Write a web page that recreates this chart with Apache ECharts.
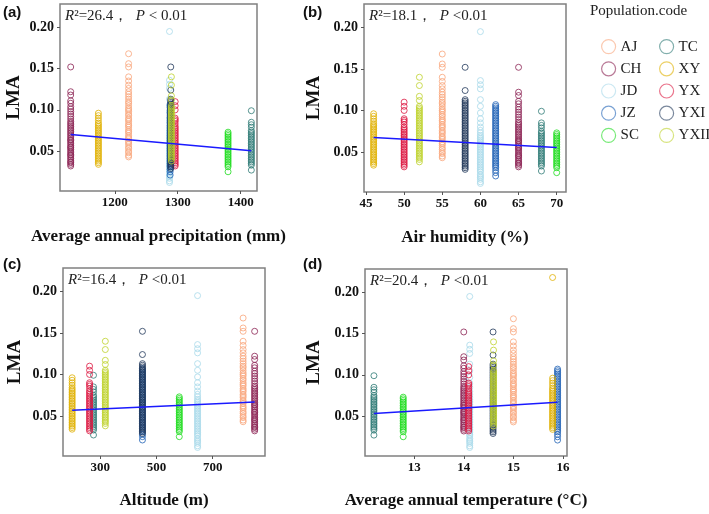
<!DOCTYPE html>
<html>
<head>
<meta charset="utf-8">
<script src="https://cdn.jsdelivr.net/npm/echarts@6/dist/echarts.min.js"></script>
<style>
  html, body { margin: 0; padding: 0; background: #fff; }
  #chart { width: 709px; height: 514px; }
</style>
</head>
<body>
<div id="chart"></div>
<script>
// population codes and their colours
const populations = ['AJ', 'CH', 'JD', 'JZ', 'SC', 'TC', 'XY', 'YX', 'YXI', 'YXII']
const colors = ['#F9A57B', '#8B2252', '#A9D9EA', '#1F62B5', '#1EDC1E', '#2E7A76', '#E0B000', '#DC1740', '#22385A', '#BED22C']

// site environment of each population (same order as populations)
const precipitation = [1222, 1130, 1287, 1288, 1380, 1417, 1174, 1296, 1289, 1290]
const humidity = [55, 65, 60, 62, 70, 68, 46, 50, 58, 52]
const altitude = [808, 849, 646, 450, 581, 276, 200, 262, 450, 318]
const temperature = [15.0, 14.0, 14.12, 15.89, 12.78, 12.19, 15.79, 14.1, 14.59, 14.6]

// LMA of each population
const lmaAJ = [0.043, 0.045, 0.048, 0.050, 0.053, 0.055, 0.058, 0.060, 0.062, 0.065, 0.067, 0.069, 0.072, 0.074, 0.076, 0.079, 0.081, 0.083, 0.086, 0.088, 0.090, 0.093, 0.095, 0.098, 0.100, 0.102, 0.105, 0.108, 0.110, 0.113, 0.116, 0.119, 0.122, 0.126, 0.130, 0.135, 0.140, 0.152, 0.156, 0.168]
const lmaCH = [0.032, 0.034, 0.036, 0.037, 0.039, 0.041, 0.043, 0.045, 0.046, 0.048, 0.050, 0.052, 0.054, 0.055, 0.057, 0.059, 0.061, 0.063, 0.064, 0.066, 0.068, 0.070, 0.072, 0.074, 0.076, 0.078, 0.080, 0.082, 0.084, 0.086, 0.089, 0.092, 0.095, 0.098, 0.101, 0.104, 0.108, 0.111, 0.118, 0.122, 0.152]
const lmaJD = [0.012, 0.014, 0.017, 0.019, 0.021, 0.023, 0.026, 0.028, 0.030, 0.032, 0.034, 0.036, 0.038, 0.040, 0.042, 0.044, 0.046, 0.048, 0.050, 0.052, 0.054, 0.056, 0.058, 0.060, 0.062, 0.064, 0.066, 0.068, 0.070, 0.073, 0.076, 0.080, 0.085, 0.090, 0.097, 0.105, 0.113, 0.126, 0.131, 0.136, 0.195]
const lmaJZ = [0.021, 0.025, 0.028, 0.031, 0.033, 0.035, 0.037, 0.039, 0.041, 0.043, 0.045, 0.047, 0.049, 0.051, 0.053, 0.055, 0.057, 0.059, 0.061, 0.063, 0.065, 0.067, 0.069, 0.071, 0.073, 0.075, 0.077, 0.079, 0.081, 0.083, 0.085, 0.087, 0.089, 0.091, 0.093, 0.095, 0.097, 0.099, 0.101, 0.103, 0.105, 0.107]
const lmaSC = [0.025, 0.031, 0.033, 0.035, 0.037, 0.039, 0.041, 0.043, 0.045, 0.047, 0.049, 0.051, 0.053, 0.055, 0.057, 0.059, 0.061, 0.063, 0.065, 0.067, 0.069, 0.071, 0.073]
const lmaTC = [0.027, 0.033, 0.035, 0.037, 0.039, 0.041, 0.043, 0.045, 0.047, 0.049, 0.051, 0.053, 0.055, 0.057, 0.059, 0.061, 0.063, 0.065, 0.067, 0.069, 0.071, 0.073, 0.075, 0.079, 0.082, 0.085, 0.099]
const lmaXY = [0.034, 0.036, 0.038, 0.040, 0.042, 0.044, 0.046, 0.048, 0.050, 0.052, 0.054, 0.056, 0.058, 0.060, 0.062, 0.064, 0.066, 0.068, 0.070, 0.072, 0.074, 0.076, 0.078, 0.080, 0.082, 0.084, 0.087, 0.090, 0.093, 0.096]
const lmaYX = [0.032, 0.034, 0.036, 0.038, 0.040, 0.042, 0.044, 0.046, 0.048, 0.050, 0.052, 0.054, 0.056, 0.058, 0.060, 0.062, 0.064, 0.066, 0.068, 0.070, 0.072, 0.074, 0.076, 0.078, 0.080, 0.083, 0.086, 0.088, 0.090, 0.100, 0.105, 0.110]
const lmaYXI = [0.029, 0.031, 0.033, 0.035, 0.037, 0.039, 0.041, 0.043, 0.045, 0.047, 0.049, 0.051, 0.053, 0.055, 0.057, 0.059, 0.061, 0.063, 0.065, 0.067, 0.069, 0.071, 0.073, 0.075, 0.077, 0.079, 0.081, 0.083, 0.085, 0.087, 0.089, 0.091, 0.093, 0.095, 0.097, 0.099, 0.101, 0.103, 0.105, 0.107, 0.109, 0.111, 0.113, 0.124, 0.152]
const lmaYXII = [0.038, 0.041, 0.043, 0.045, 0.047, 0.049, 0.051, 0.053, 0.055, 0.057, 0.059, 0.061, 0.063, 0.065, 0.067, 0.069, 0.071, 0.073, 0.075, 0.077, 0.079, 0.081, 0.083, 0.085, 0.087, 0.089, 0.091, 0.093, 0.095, 0.097, 0.099, 0.101, 0.103, 0.105, 0.112, 0.117, 0.130, 0.140]
const lmaAll = [lmaAJ, lmaCH, lmaJD, lmaJZ, lmaSC, lmaTC, lmaXY, lmaYX, lmaYXI, lmaYXII]
// the single high XY leaf only visible in the temperature panel
const xyOutlierTemp = [0.218]

// fitted regression lines [x, LMA] at both ends
const fitPrecip = [[1130, 0.0702], [1417, 0.0504]]
const fitHumidity = [[46, 0.0673], [70, 0.0552]]
const fitAltitude = [[200, 0.0569], [849, 0.0669]]
const fitTemperature = [[12.19, 0.0533], [15.89, 0.0669]]

// tick labels
const yTicks = [0.05, 0.10, 0.15, 0.20]
const precipTicks = [1200, 1300, 1400]
const humidityTicks = [45, 50, 55, 60, 65, 70]
const altitudeTicks = [300, 500, 700]
const temperatureTicks = [13, 14, 15, 16]

const stats = ['=26.4，  {i|P} < 0.01', '=18.1，  {i|P} <0.01', '=16.4，  {i|P} <0.01', '=20.4，  {i|P} <0.01']

const serif = '"Times New Roman", "Liberation Serif", serif'

const panels = [
  { x: precipitation, fit: fitPrecip, ticks: precipTicks, min: 1113, max: 1426, name: 'Average annual precipitation (mm)',
    grid: { left: 60, top: 4, width: 197, height: 187 }, nameGap: 37, yGap: 36 },
  { x: humidity, fit: fitHumidity, ticks: humidityTicks, min: 44.74, max: 71.22, name: 'Air humidity (%)',
    grid: { left: 364, top: 4, width: 202, height: 188 }, nameGap: 37, yGap: 40 },
  { x: altitude, fit: fitAltitude, ticks: altitudeTicks, min: 167.5, max: 885.8, name: 'Altitude (m)',
    grid: { left: 63, top: 268, width: 202, height: 188 }, nameGap: 36, yGap: 38 },
  { x: temperature, fit: fitTemperature, ticks: temperatureTicks, min: 12.01, max: 16.08, name: 'Average annual temperature (°C)',
    grid: { left: 365, top: 269, width: 202, height: 187 }, nameGap: 36, yGap: 41 }
]

const chart = echarts.init(document.getElementById('chart'))

const pointStyle = i => ({ color: 'rgba(0,0,0,0)', borderColor: colors[i], borderWidth: 1, opacity: 0.8 })

const series = []
panels.forEach((p, k) => {
  populations.forEach((pop, i) => {
    series.push({
      type: 'scatter',
      name: pop,
      xAxisIndex: k,
      yAxisIndex: k,
      symbol: 'circle',
      symbolSize: 6,
      itemStyle: pointStyle(i),
      data: lmaAll[i].map(v => [p.x[i], v])
    })
  })
  if (k === 3) {
    series.push({
      type: 'scatter',
      name: 'XY',
      xAxisIndex: 3,
      yAxisIndex: 3,
      symbol: 'circle',
      symbolSize: 6,
      itemStyle: pointStyle(6),
      data: xyOutlierTemp.map(v => [temperature[6], v])
    })
  }
  series.push({
    type: 'line',
    xAxisIndex: k,
    yAxisIndex: k,
    symbol: 'none',
    lineStyle: { color: '#1a1aff', width: 1.5 },
    data: p.fit,
    z: 5
  })
})

const legendItem = i => ({
  name: populations[i],
  icon: 'circle',
  itemStyle: { color: 'rgba(0,0,0,0)', borderColor: colors[i], borderWidth: 1.2, opacity: 0.6 }
})
const legendBase = {
  orient: 'vertical',
  top: 34,
  itemGap: 7,
  itemWidth: 14,
  itemHeight: 14,
  selectedMode: false,
  textStyle: { fontFamily: serif, fontSize: 15, color: '#222' }
}

chart.setOption({
  animation: false,
  legend: [
    Object.assign({}, legendBase, { left: 596, data: [0, 1, 2, 3, 4].map(legendItem) }),
    Object.assign({}, legendBase, { left: 654, data: [5, 6, 7, 8, 9].map(legendItem) })
  ],
  grid: panels.map(p => Object.assign({ show: true, borderColor: '#808080', borderWidth: 1.5 }, p.grid)),
  xAxis: panels.map((p, k) => ({
    type: 'value',
    gridIndex: k,
    min: p.min,
    max: p.max,
    axisLine: { show: false },
    splitLine: { show: false },
    axisTick: { show: true, length: 3, lineStyle: { color: '#555' }, customValues: p.ticks },
    axisLabel: { customValues: p.ticks, margin: 5, formatter: v => String(v), fontFamily: serif, fontWeight: 'bold', fontSize: 13, color: '#111' },
    name: p.name,
    nameLocation: 'middle',
    nameGap: p.nameGap,
    nameTextStyle: { fontFamily: serif, fontWeight: 'bold', fontSize: 17, color: '#111' }
  })),
  yAxis: panels.map((p, k) => ({
    type: 'value',
    gridIndex: k,
    min: 0.0017,
    max: 0.2283,
    axisLine: { show: false },
    splitLine: { show: false },
    axisTick: { show: true, length: 3, lineStyle: { color: '#555' }, customValues: yTicks },
    axisLabel: { customValues: yTicks, margin: 6, formatter: v => v.toFixed(2), fontFamily: serif, fontWeight: 'bold', fontSize: 14, color: '#111' },
    name: 'LMA',
    nameLocation: 'middle',
    nameGap: p.yGap,
    nameTextStyle: { fontFamily: serif, fontWeight: 'bold', fontSize: 19, color: '#111' }
  })),
  graphic: [
    { type: 'text', left: 590, top: 4, style: { text: 'Population.code', fontFamily: serif, fontSize: 15, fill: '#222' } },
    { type: 'text', x: 3, y: 13, style: { text: '(a)', fontFamily: 'Arial, "Liberation Sans", sans-serif', fontWeight: 'bold', fontSize: 15, fill: '#111', verticalAlign: 'middle' } },
    { type: 'text', x: 303, y: 13, style: { text: '(b)', fontFamily: 'Arial, "Liberation Sans", sans-serif', fontWeight: 'bold', fontSize: 15, fill: '#111', verticalAlign: 'middle' } },
    { type: 'text', x: 3, y: 265, style: { text: '(c)', fontFamily: 'Arial, "Liberation Sans", sans-serif', fontWeight: 'bold', fontSize: 15, fill: '#111', verticalAlign: 'middle' } },
    { type: 'text', x: 303, y: 265, style: { text: '(d)', fontFamily: 'Arial, "Liberation Sans", sans-serif', fontWeight: 'bold', fontSize: 15, fill: '#111', verticalAlign: 'middle' } }
  ].concat(panels.map((p, k) => ({
    type: 'text',
    x: p.grid.left + 5,
    y: p.grid.top + 12,
    style: {
      text: '{i|R}²' + stats[k],
      rich: { i: { fontStyle: 'italic', fontFamily: serif, fontSize: 15, fill: '#222' } },
      fontFamily: serif,
      fontSize: 15,
      fill: '#222',
      verticalAlign: 'middle'
    }
  }))),
  series: series
})
</script>
</body>
</html>
